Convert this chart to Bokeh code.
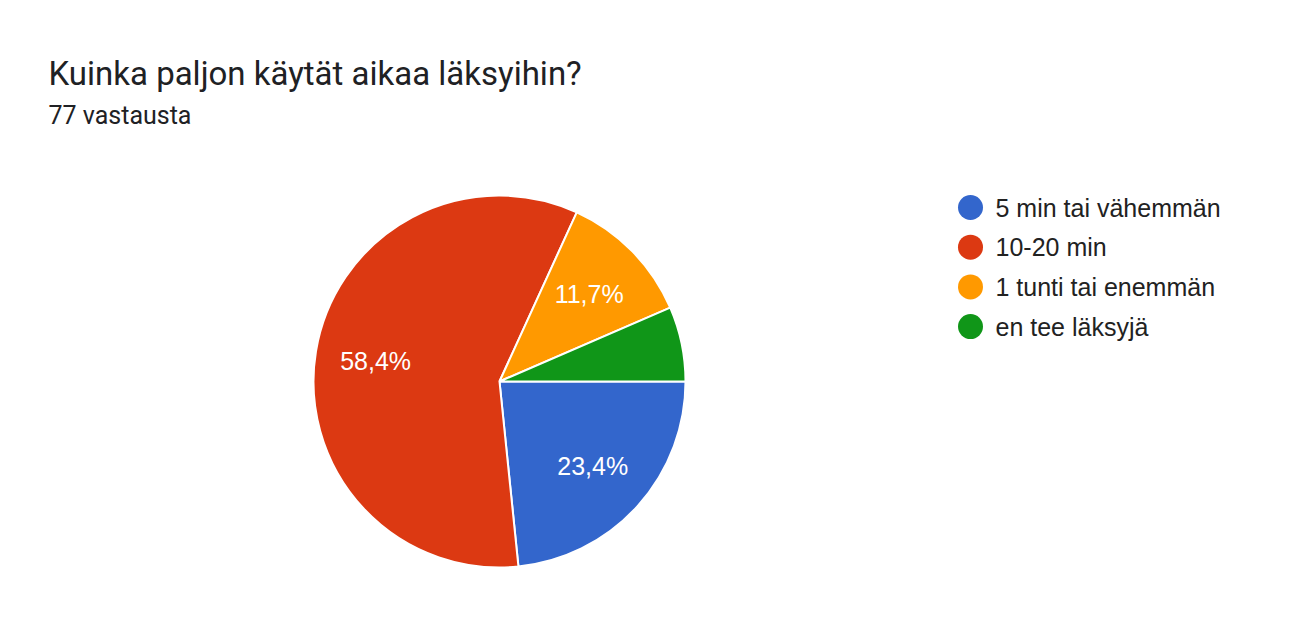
from bokeh.plotting import figure
from bokeh.models import Range1d, ColumnDataSource
from bokeh.core.properties import value
from bokeh.embed import file_html
from bokeh.resources import INLINE
import numpy as np

# data
categories = ["5 min tai vähemmän", "10-20 min", "1 tunti tai enemmän", "en tee läksyjä"]
counts = [18, 45, 9, 5]
colors = ["#3366cc", "#dc3912", "#ff9900", "#109618"]
title = "Kuinka paljon käytät aikaa läksyihin?"
subtitle = "77 vastausta"

W, H = 1273, 622
TOP = 638  # data y of the top of the figure

p = figure(width=W, height=H, output_backend="svg", toolbar_location=None,
           x_range=Range1d(0, W), y_range=Range1d(TOP - H, TOP),
           min_border=0, outline_line_color=None)
p.axis.visible = False
p.grid.visible = False
p.background_fill_color = "white"

# pie, clockwise from 3 o'clock
cx, cy, r = 499, 638 - 381, 186
vals = np.array(counts, dtype=float)
frac = vals / vals.sum()
ends = -np.cumsum(frac) * 2 * np.pi
starts = np.concatenate([[0], ends[:-1]])
src = ColumnDataSource(dict(start=starts, end=ends, color=colors, cat=categories))
p.wedge(x=cx, y=cy, radius=r, start_angle="start", end_angle="end",
        direction="clock", fill_color="color", line_color="white", line_width=2, source=src)

# percentage labels (hidden for small slices)
mid = (starts + ends) / 2
lx, ly, lt = [], [], []
for f, a in zip(frac, mid):
    if f < 0.1:
        continue
    lx.append(cx + 0.675 * r * np.cos(a))
    ly.append(cy + 0.675 * r * np.sin(a))
    lt.append(f"{f * 100:.1f}%".replace(".", ","))
p.text(x=lx, y=ly, text=lt, text_color="white", text_font=value("Liberation Sans"),
       text_font_size="25px", text_align="center", text_baseline="middle")

# title texts
p.text(x=[48], y=[638 - 73], text=[title], text_font=value("Roboto"), text_font_size="33px",
       text_color="#202124", text_baseline="middle")
p.text(x=[48], y=[638 - 115], text=[subtitle], text_font=value("Roboto"), text_font_size="25px",
       text_color="#202124", text_baseline="middle")

# legend
ys = [638 - 207 - 39.7 * i for i in range(len(categories))]
p.scatter(x=[970] * len(categories), y=ys, size=25, color=colors, line_color=None)
p.text(x=[995] * len(categories), y=ys, text=categories, text_font=value("Liberation Sans"),
       text_font_size="25px", text_color="#222222", text_baseline="middle")

open("out.html", "w").write(file_html(p, INLINE))
